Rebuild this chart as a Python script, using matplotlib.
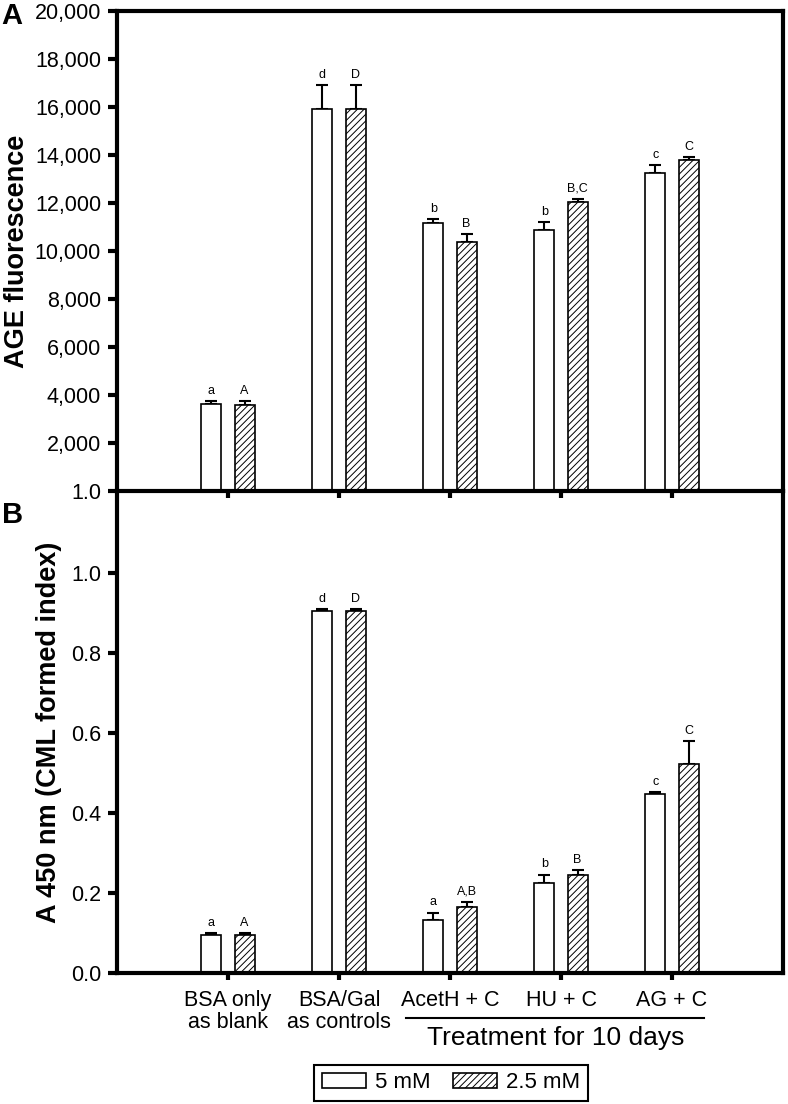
import numpy as np
import matplotlib
matplotlib.use('Agg')
import matplotlib.pyplot as plt
from matplotlib.patches import Patch
from matplotlib.lines import Line2D

plt.rcParams['font.family'] = ['Liberation Sans', 'DejaVu Sans']
plt.rcParams['hatch.linewidth'] = 0.7

groups = ['BSA only\nas blank', 'BSA/Gal\nas controls', 'AcetH + C', 'HU + C', 'AG + C']

# panel A: AGE fluorescence
age_5mm = [3620, 15900, 11170, 10870, 13250]
age_5mm_err = [130, 1000, 160, 330, 330]
age_25mm = [3600, 15900, 10370, 12040, 13790]
age_25mm_err = [130, 1000, 330, 130, 120]
age_lab_5 = ['a', 'd', 'b', 'b', 'c']
age_lab_25 = ['A', 'D', 'B', 'B,C', 'C']

# panel B: CML
cml_5mm = [0.095, 0.905, 0.133, 0.225, 0.447]
cml_5mm_err = [0.004, 0.004, 0.018, 0.021, 0.006]
cml_25mm = [0.095, 0.905, 0.165, 0.246, 0.522]
cml_25mm_err = [0.004, 0.004, 0.013, 0.012, 0.058]
cml_lab_5 = ['a', 'd', 'a', 'b', 'c']
cml_lab_25 = ['A', 'D', 'A,B', 'B', 'C']

W, H = 788, 1104
fig = plt.figure(figsize=(W / 100, H / 100), dpi=100)
L, R = 117 / W, 783 / W
axB = fig.add_axes([L, 1 - 973 / H, R - L, (973 - 491) / H])
axA = fig.add_axes([L, 1 - 491 / H, R - L, (491 - 11) / H])
axA.patch.set_visible(False)
axB.patch.set_visible(False)

x = np.arange(len(groups))
bw = 0.18
off = 0.15


def draw(ax, v5, e5, v25, e25, lab5, lab25):
    ax.bar(x - off, v5, bw, facecolor='white', edgecolor='black', linewidth=1.2, zorder=2)
    ax.bar(x + off, v25, bw, facecolor='white', edgecolor='black', linewidth=1.2,
           hatch='/////', zorder=2)
    z = np.zeros(len(x))
    for xs, v, e in [(x - off, v5, e5), (x + off, v25, e25)]:
        ax.errorbar(xs, v, yerr=[z, e], fmt='none', ecolor='black', elinewidth=1.5,
                    capsize=4.5, capthick=1.5, zorder=1)
    for i in range(len(x)):
        ax.annotate(lab5[i], (x[i] - off, v5[i] + e5[i]), xytext=(0, 3),
                    textcoords='offset points', ha='center', va='bottom', fontsize=9)
        ax.annotate(lab25[i], (x[i] + off, v25[i] + e25[i]), xytext=(0, 3),
                    textcoords='offset points', ha='center', va='bottom', fontsize=9)
    ax.set_xlim(-1, 5)
    ax.set_xticks(x)
    for s in ax.spines.values():
        s.set_linewidth(3)
    ax.tick_params(axis='both', direction='out', width=3, length=6.5, labelsize=15.5, pad=5)


draw(axA, age_5mm, age_5mm_err, age_25mm, age_25mm_err, age_lab_5, age_lab_25)
axA.set_ylim(0, 20000)
yt = np.arange(0, 20001, 2000)
axA.set_yticks(yt)
axA.set_yticklabels(['1.0'] + ['{:,}'.format(v) for v in yt[1:]])
axA.set_xticklabels([])
axA.tick_params(axis='x', length=5)

draw(axB, cml_5mm, cml_5mm_err, cml_25mm, cml_25mm_err, cml_lab_5, cml_lab_25)
axB.set_ylim(0, 1.205)
axB.set_yticks(np.arange(0, 1.01, 0.2))
axB.set_yticklabels(['{:.1f}'.format(v) for v in np.arange(0, 1.01, 0.2)])
axB.spines['top'].set_visible(False)
axB.set_xticklabels(groups, fontsize=15.5, linespacing=1.1)
axB.tick_params(axis='x', length=5, pad=7)

fig.text(17 / W, 1 - 251 / H, 'AGE fluorescence', rotation=90, ha='center', va='center',
         fontsize=19.5, fontweight='bold')
fig.text(49 / W, 1 - 732 / H, 'A 450 nm (CML formed index)', rotation=90, ha='center',
         va='center', fontsize=19.5, fontweight='bold')
fig.text(12 / W, 1 - 16 / H, 'A', ha='center', va='center', fontsize=21, fontweight='bold')
fig.text(13 / W, 1 - 515 / H, 'B', ha='center', va='center', fontsize=21, fontweight='bold')

fig.add_artist(Line2D([406 / W, 704 / W], [1 - 1018 / H] * 2, color='black', linewidth=1.5))
fig.text(556 / W, 1 - 1038 / H, 'Treatment for 10 days', ha='center', va='center', fontsize=19)

handles = [Patch(facecolor='white', edgecolor='black', linewidth=1.2, label='5 mM'),
           Patch(facecolor='white', edgecolor='black', linewidth=1.2, hatch='/////', label='2.5 mM')]
leg = fig.legend(handles=handles, loc='center', bbox_to_anchor=(451 / W, 1 - 1083 / H), ncol=2,
                 fontsize=16, frameon=True, fancybox=False, framealpha=1, edgecolor='black',
                 handlelength=2.0, handleheight=0.65, handletextpad=0.4, columnspacing=1.0,
                 borderpad=0.35)
leg.get_frame().set_linewidth(1.5)

fig.savefig('out.png', dpi=100)
